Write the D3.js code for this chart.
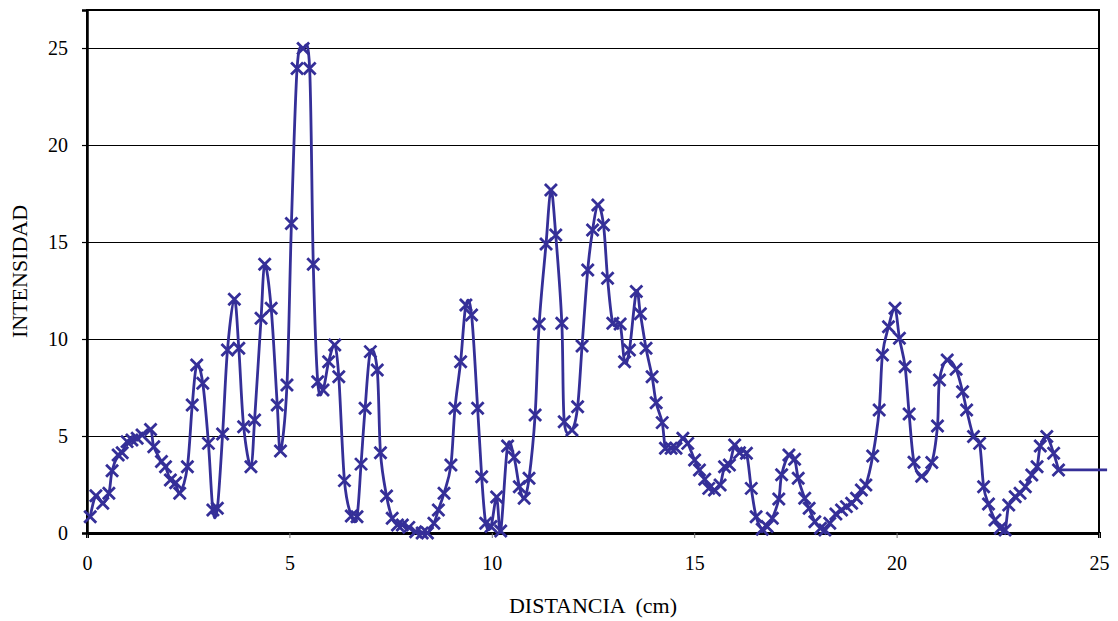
<!DOCTYPE html>
<html>
<head>
<meta charset="utf-8">
<script src="https://cdn.jsdelivr.net/npm/d3@7"></script>
<style>
  html, body { margin: 0; padding: 0; background: #fff; }
  svg { display: block; }
</style>
</head>
<body>
<svg id="chart" width="1118" height="621"></svg>
<script>
// ---- data ----
const distancia = [
  0.08, 0.22, 0.39, 0.54, 0.62, 0.77, 0.87, 0.99, 1.11, 1.24,
  1.36, 1.57, 1.65, 1.84, 1.94, 2.06, 2.19, 2.29, 2.48, 2.60,
  2.71, 2.86, 3.00, 3.11, 3.22, 3.35, 3.47, 3.64, 3.75, 3.87,
  4.05, 4.14, 4.30, 4.39, 4.55, 4.70, 4.78, 4.94, 5.05, 5.19,
  5.34, 5.50, 5.59, 5.70, 5.83, 5.97, 6.12, 6.22, 6.36, 6.53,
  6.67, 6.77, 6.87, 7.00, 7.17, 7.25, 7.40, 7.54, 7.67, 7.79,
  7.95, 8.12, 8.28, 8.41, 8.57, 8.68, 8.82, 8.99, 9.09, 9.23,
  9.36, 9.50, 9.65, 9.75, 9.85, 9.98, 10.12, 10.22, 10.39, 10.55,
  10.68, 10.80, 10.92, 11.07, 11.17, 11.34, 11.46, 11.58, 11.73, 11.79,
  11.98, 12.12, 12.23, 12.37, 12.49, 12.62, 12.76, 12.86, 12.99, 13.17,
  13.28, 13.40, 13.57, 13.67, 13.81, 13.96, 14.06, 14.21, 14.29, 14.43,
  14.55, 14.72, 14.84, 15.01, 15.13, 15.26, 15.36, 15.50, 15.64, 15.75,
  15.87, 16.00, 16.12, 16.29, 16.41, 16.53, 16.68, 16.80, 16.93, 17.09,
  17.16, 17.34, 17.48, 17.57, 17.73, 17.84, 17.98, 18.12, 18.23, 18.35,
  18.50, 18.64, 18.76, 18.89, 19.01, 19.13, 19.24, 19.41, 19.57, 19.65,
  19.80, 19.96, 20.07, 20.21, 20.31, 20.43, 20.62, 20.87, 21.01, 21.06,
  21.25, 21.47, 21.63, 21.73, 21.90, 22.05, 22.15, 22.27, 22.43, 22.56,
  22.68, 22.77, 22.93, 23.05, 23.18, 23.34, 23.47, 23.55, 23.71, 23.88,
  24.00
];
const intensidad = [
  0.84, 1.92, 1.53, 2.05, 3.21, 4.02, 4.14, 4.71, 4.79, 4.88,
  5.05, 5.34, 4.45, 3.68, 3.42, 2.73, 2.59, 2.05, 3.42, 6.60,
  8.66, 7.72, 4.62, 1.19, 1.27, 5.10, 9.43, 12.05, 9.52, 5.48,
  3.42, 5.82, 11.07, 13.85, 11.58, 6.60, 4.23, 7.63, 15.96, 23.95,
  24.98, 23.95, 13.85, 7.80, 7.37, 8.83, 9.69, 8.06, 2.70, 0.88,
  0.84, 3.55, 6.43, 9.35, 8.40, 4.14, 1.91, 0.76, 0.41, 0.41,
  0.29, 0.07, 0.00, 0.00, 0.50, 1.19, 2.05, 3.50, 6.43, 8.83,
  11.75, 11.24, 6.43, 2.90, 0.50, 0.33, 1.85, 0.10, 4.48, 3.90,
  2.39, 1.79, 2.82, 6.08, 10.77, 14.90, 17.68, 15.36, 10.81, 5.74,
  5.31, 6.51, 9.64, 13.56, 15.62, 16.91, 15.88, 13.13, 10.81, 10.77,
  8.83, 9.43, 12.45, 11.30, 9.52, 8.06, 6.72, 5.69, 4.37, 4.37,
  4.37, 4.88, 4.62, 3.76, 3.25, 2.77, 2.30, 2.22, 2.47, 3.42,
  3.50, 4.54, 4.14, 4.11, 2.30, 0.84, 0.19, 0.33, 0.76, 1.75,
  3.00, 4.02, 3.80, 2.82, 1.79, 1.27, 0.58, 0.24, 0.15, 0.50,
  0.98, 1.19, 1.36, 1.53, 1.79, 2.22, 2.47, 3.97, 6.34, 9.18,
  10.63, 11.58, 10.04, 8.57, 6.13, 3.65, 2.92, 3.63, 5.52, 7.89,
  8.92, 8.44, 7.28, 6.34, 4.97, 4.62, 2.39, 1.49, 0.67, 0.24,
  0.15, 1.44, 1.87, 2.05, 2.39, 2.99, 3.42, 4.48, 4.97, 4.11,
  3.25
];
// trailing segment of the series that runs past the plot edge (no marker shown)
const tailDistancia = [24.00, 25.2];
const tailIntensidad = [3.25, 3.25];

const xTicks = [0, 5, 10, 15, 20, 25];
const yTicks = [0, 5, 10, 15, 20, 25];
const xTitle = "DISTANCIA  (cm)";
const yTitle = "INTENSIDAD";

// ---- layout ----
const W = 1118, H = 621;
const plot = { left: 87, right: 1099, top: 10, bottom: 533 };
const lineColor = "#352f98";
const font = "'Liberation Serif', 'Times New Roman', serif";

const x = d3.scaleLinear().domain([0, 25]).range([plot.left, plot.right]);
const y = d3.scaleLinear().domain([0, 26.96]).range([plot.bottom, plot.top]);

const svg = d3.select("#chart");
svg.append("rect").attr("width", W).attr("height", H).attr("fill", "#fff");

// gridlines
svg.append("g")
  .selectAll("line")
  .data(yTicks.filter(d => d > 0))
  .join("line")
  .attr("x1", plot.left).attr("x2", plot.right)
  .attr("y1", d => y(d)).attr("y2", d => y(d))
  .attr("stroke", "#000").attr("stroke-width", 1)
  .attr("shape-rendering", "crispEdges");

// frame
svg.append("rect")
  .attr("x", plot.left).attr("y", plot.top)
  .attr("width", plot.right - plot.left).attr("height", plot.bottom - plot.top)
  .attr("fill", "none").attr("stroke", "#000").attr("stroke-width", 2);

// axes
const xAxis = d3.axisBottom(x).tickValues(xTicks).tickSize(5).tickPadding(18).tickFormat(d3.format("d"));
const gx = svg.append("g").attr("transform", `translate(0,${plot.bottom})`).call(xAxis);
gx.select(".domain").attr("stroke", "#000").attr("stroke-width", 3);
gx.selectAll(".tick line").attr("stroke", "#777").attr("stroke-width", 1);
gx.selectAll("text").attr("font-family", font).attr("font-size", 20).attr("fill", "#000");

const yAxis = d3.axisLeft(y).tickValues(yTicks).tickSize(5).tickPadding(14).tickFormat(d3.format("d"));
const gy = svg.append("g").attr("transform", `translate(${plot.left},0)`).call(yAxis);
gy.select(".domain").attr("stroke", "#000").attr("stroke-width", 2.5);
gy.selectAll(".tick line").attr("stroke", "#000").attr("stroke-width", 1.2);
gy.selectAll("text").attr("font-family", font).attr("font-size", 20).attr("fill", "#000");

// series
const pts = distancia.map((d, i) => ({ x: d, y: intensidad[i] }));
const tail = tailDistancia.map((d, i) => ({ x: d, y: tailIntensidad[i] }));
const line = d3.line().x(d => x(d.x)).y(d => y(d.y)).curve(d3.curveCardinal.tension(0));

svg.append("path")
  .datum(pts)
  .attr("d", line)
  .attr("fill", "none")
  .attr("stroke", lineColor)
  .attr("stroke-width", 2.8)
  .attr("stroke-linejoin", "round");

svg.append("path")
  .datum(tail)
  .attr("d", d3.line().x(d => x(d.x)).y(d => y(d.y)))
  .attr("fill", "none")
  .attr("stroke", lineColor)
  .attr("stroke-width", 2.8);

const m = 6;
svg.append("g")
  .selectAll("path")
  .data(pts)
  .join("path")
  .attr("transform", d => `translate(${x(d.x)},${y(d.y)})`)
  .attr("d", `M${-m},${-m}L${m},${m}M${-m},${m}L${m},${-m}`)
  .attr("stroke", lineColor)
  .attr("stroke-width", 2.8)
  .attr("fill", "none");

// titles
svg.append("text")
  .attr("x", (plot.left + plot.right) / 2).attr("y", 613)
  .attr("text-anchor", "middle")
  .attr("font-family", font).attr("font-size", 22)
  .attr("xml:space", "preserve")
  .style("white-space", "pre")
  .text(xTitle);

svg.append("text")
  .attr("transform", `translate(27,${(plot.top + plot.bottom) / 2}) rotate(-90)`)
  .attr("text-anchor", "middle")
  .attr("font-family", font).attr("font-size", 22)
  .text(yTitle);
</script>
</body>
</html>
